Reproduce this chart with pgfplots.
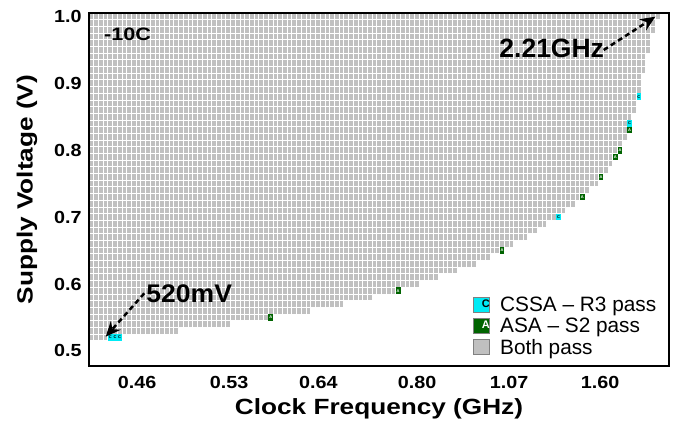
\documentclass[border=0pt]{standalone}
\usepackage{fontspec}
\setmainfont{Liberation Sans}
\usepackage{pgfplots}
\pgfplotsset{compat=1.18}
\usepackage{pgfplotstable}
\usetikzlibrary{arrows.meta}
\definecolor{silver}{RGB}{192,192,192}
\definecolor{ccyan}{RGB}{0,235,245}
\definecolor{agreen}{RGB}{0,100,0}

% gray rows: voltage v, number of passing clock settings n (columns 0..n-1)
\pgfplotstableread{
v n
0.52 4
0.53 19
0.54 30
0.55 38
0.56 47
0.57 54
0.58 60
0.59 65
0.60 70
0.61 74
0.62 78
0.63 82
0.64 85
0.65 87
0.66 90
0.67 93
0.68 95
0.69 97
0.70 99
0.71 101
0.72 103
0.73 104
0.74 106
0.75 108
0.76 108
0.77 110
0.78 111
0.79 111
0.80 112
0.81 113
0.82 114
0.83 114
0.84 114
0.85 115
0.86 116
0.87 116
0.88 116
0.89 117
0.90 117
0.91 117
0.92 118
0.93 118
0.94 118
0.95 119
0.96 119
0.97 119
0.98 120
0.99 120
1.00 121
}\bothpass

\pgfplotstableread{
x v
4.5 0.52
5.5 0.52
6.5 0.52
99.5 0.70
114.5 0.84
116.5 0.88
}\cssapass

\pgfplotstableread{
x v
38.5 0.55
65.5 0.59
87.5 0.65
104.5 0.73
108.5 0.76
111.5 0.79
112.5 0.80
114.5 0.83
}\asapass

\begin{document}
\begin{tikzpicture}
\path[use as bounding box] (-89pt,-56pt) rectangle (588pt,366pt);
\begin{axis}[
  at={(0pt,0pt)}, anchor=south west,
  scale only axis, width=580pt, height=353pt,
  xmin=0, xmax=122.88, ymin=0.4774, ymax=1.0051,
  axis on top,
  axis line style={line width=2pt, black},
  xtick={10.2,29.7,48.6,69.5,89.0,108.3},
  xticklabels={0.46,0.53,0.64,0.80,1.07,1.60},
  ytick={0.5,0.6,0.7,0.8,0.9,1.0},
  yticklabels={0.5,0.6,0.7,0.8,0.9,1.0},
  minor xtick={1,2,...,122},
  minor ytick={0.515,0.525,...,1.0},
  xminorgrids=true, yminorgrids=true,
  xmajorgrids=false, ymajorgrids=false,
  minor grid style={white, line width=1pt},
  major tick length=0pt, minor tick length=0pt,
  /pgf/number format/assume math mode=true,
  tick label style={font=\bfseries\fontsize{17.5}{17.5}\selectfont, inner sep=0pt, xscale=1.13},
  xticklabel style={anchor=north, yshift=-9.6pt},
  yticklabel style={anchor=east, xshift=-6.3pt},
  xlabel={Clock Frequency (GHz)},
  ylabel={Supply Voltage (V)},
  label style={font=\bfseries\fontsize{22}{22}\selectfont},
  xlabel style={at={(axis description cs:0.5,-0.120)}, anchor=center, xscale=1.19},
  ylabel style={at={(axis description cs:-0.1067,0.5)}, anchor=center, xscale=1.19},
  legend style={draw=none, fill=none, at={(0.662,0.197)}, anchor=north west,
    font=\fontsize{20.8}{20.8}\selectfont, row sep=5.2pt, inner sep=0pt,
    nodes={inner sep=0pt}, cells={anchor=west},
    /tikz/every odd column/.append style={column sep=10pt}},
]
\addplot[only marks, mark=text, text mark={C}, text mark as node=true,
  text mark style={fill=ccyan, draw=none, text=black, minimum width=4.7pt, minimum height=6.7pt, inner sep=0pt, font=\bfseries\fontsize{4}{4}\selectfont},
  legend image code/.code={
    \draw[fill=ccyan, draw=gray, line width=1pt] (0pt,-7.5pt) rectangle (16pt,7.5pt);
    \node[font=\bfseries\fontsize{11}{11}\selectfont, text=black, inner sep=0pt] at (8pt,0pt) {C};
  }] table[x=x, y=v] {\cssapass};
\addlegendentry{CSSA -- R3 pass}
\addplot[only marks, mark=text, text mark={A}, text mark as node=true,
  text mark style={fill=agreen, draw=none, text=white, minimum width=4.7pt, minimum height=6.7pt, inner sep=0pt, font=\bfseries\fontsize{4}{4}\selectfont},
  legend image code/.code={
    \draw[fill=agreen, draw=gray, line width=1pt] (0pt,-7.5pt) rectangle (16pt,7.5pt);
    \node[font=\bfseries\fontsize{11}{11}\selectfont, text=white, inner sep=0pt] at (8pt,0pt) {A};
  }] table[x=x, y=v] {\asapass};
\addlegendentry{ASA -- S2 pass}
\addplot[xbar, bar width=0.01, bar shift=0pt, fill=silver, draw=none,
  legend image code/.code={
    \draw[fill=silver, draw=gray, line width=1pt] (0pt,-7.5pt) rectangle (16pt,7.5pt);
  }] table[x=n, y=v] {\bothpass};
\addlegendentry{Both pass}
\end{axis}
\node[font=\bfseries\fontsize{18}{18}\selectfont, anchor=west, inner sep=0pt, xscale=1.2] at (15pt,331.5pt) {-10C};
\node[font=\bfseries\fontsize{26.5}{26.5}\selectfont, inner sep=0pt] at (462.7pt,317.5pt) {2.21GHz};
\draw[line width=2.5pt, dash pattern=on 5pt off 3.5pt, -{Stealth[length=15pt,width=13pt]}] (514.7pt,316pt) -- (566.3pt,349.3pt);
\node[font=\bfseries\fontsize{25.5}{25.5}\selectfont, inner sep=0pt, xscale=1.04] at (100.2pt,72pt) {520mV};
\draw[line width=2.5pt, dash pattern=on 5pt off 3.5pt, -{Stealth[length=15pt,width=13pt]}] (55.3pt,72.7pt) -- (16.7pt,29.3pt);
\end{tikzpicture}
\end{document}
